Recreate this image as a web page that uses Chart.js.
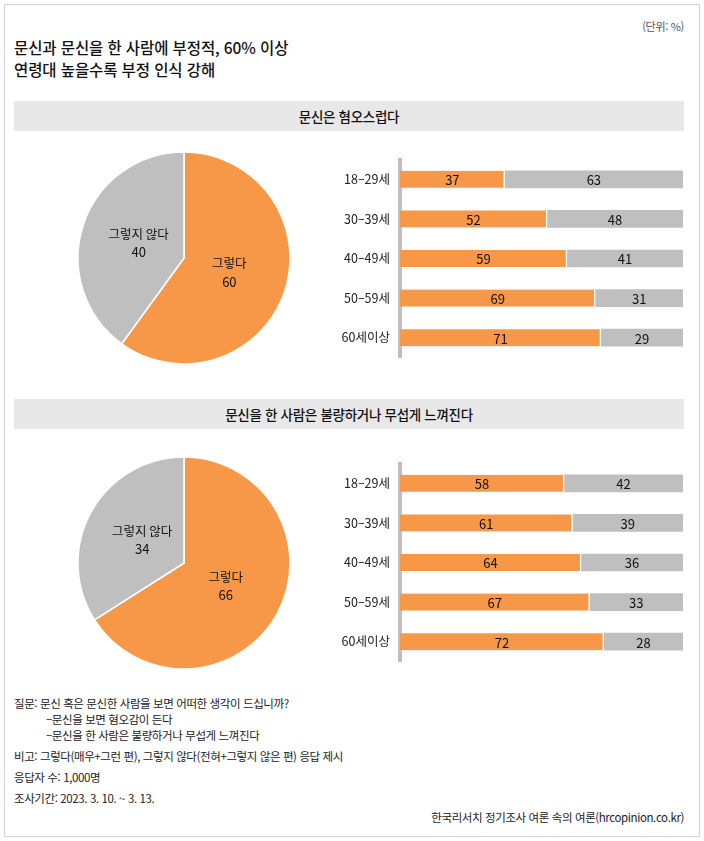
<!DOCTYPE html>
<html lang="ko">
<head>
<meta charset="utf-8">
<title>문신 인식</title>
<script src="https://cdn.jsdelivr.net/npm/chart.js@4.4.1/dist/chart.umd.min.js"></script>
<style>
  body { margin: 0; background: #fff; width: 704px; height: 841px; position: relative; overflow: hidden;
         font-family: "Noto Sans CJK KR", "Noto Sans", sans-serif; color: #111; }
  .abs { position: absolute; white-space: nowrap; }
  #frame { left: 4px; top: 4px; width: 694px; height: 831px; border: 1px solid #d2d2d2; }
  .title { left: 14px; font-size: 15.5px; font-weight: 500; letter-spacing: -0.1px; line-height: 22px; }
  .head { left: 14px; width: 670px; height: 30px; line-height: 30px; background: #e8e8e8;
          text-align: center; font-size: 13.5px; font-weight: 500; letter-spacing: -0.3px; }
  .note { left: 14px; font-size: 11.5px; letter-spacing: -0.4px; color: #222; line-height: 14px; }
  canvas { position: absolute; }
</style>
</head>
<body>
<div id="frame" class="abs"></div>
<div class="abs" style="right:20px;top:18px;font-size:11px;color:#555;letter-spacing:-0.3px">(단위: %)</div>
<div class="abs title" style="top:36px">문신과 문신을 한 사람에 부정적, 60% 이상</div>
<div class="abs title" style="top:58px">연령대 높을수록 부정 인식 강해</div>

<div class="abs head" style="top:101px">문신은 혐오스럽다</div>
<canvas id="pie1" width="220" height="220" style="left:74px;top:148px"></canvas>
<canvas id="bar1" width="360" height="233" style="left:330px;top:142px"></canvas>

<div class="abs head" style="top:399px">문신을 한 사람은 불량하거나 무섭게 느껴진다</div>
<canvas id="pie2" width="220" height="220" style="left:74px;top:453px"></canvas>
<canvas id="bar2" width="360" height="233" style="left:330px;top:446px"></canvas>

<div class="abs note" style="top:696px">질문: 문신 혹은 문신한 사람을 보면 어떠한 생각이 드십니까?</div>
<div class="abs note" style="top:712px;left:46px">–문신을 보면 혐오감이 든다</div>
<div class="abs note" style="top:728px;left:46px">–문신을 한 사람은 불량하거나 무섭게 느껴진다</div>
<div class="abs note" style="top:749px">비고: 그렇다(매우+그런 편), 그렇지 않다(전혀+그렇지 않은 편) 응답 제시</div>
<div class="abs note" style="top:770px">응답자 수: 1,000명</div>
<div class="abs note" style="top:791px">조사기간: 2023. 3. 10. ~ 3. 13.</div>
<div class="abs note" style="top:810px;left:auto;right:20px">한국리서치 정기조사 여론 속의 여론(hrcopinion.co.kr)</div>

<script>
// 연령대
const ageGroups = ['18–29세', '30–39세', '40–49세', '50–59세', '60세이상'];

// 문신은 혐오스럽다
const hateYes = [37, 52, 59, 69, 71];
const hateNo = [63, 48, 41, 31, 29];
const hateTotal = [60, 40];

// 문신을 한 사람은 불량하거나 무섭게 느껴진다
const scaryYes = [58, 61, 64, 67, 72];
const scaryNo = [42, 39, 36, 33, 28];
const scaryTotal = [66, 34];

const answerLabels = ['그렇다', '그렇지 않다'];

const ORANGE = '#f79848';
const GRAY = '#bfbfbf';
const FONT = '"Noto Sans CJK KR", "Noto Sans", sans-serif';

// 파이 조각 안에 라벨 + 값 두 줄
const pieText = {
    id: 'pieText',
    afterDatasetsDraw(chart) {
        const ctx = chart.ctx;
        const ds = chart.data.datasets[0];
        ctx.save();
        ctx.fillStyle = '#111';
        ctx.textAlign = 'center';
        ctx.textBaseline = 'middle';
        chart.getDatasetMeta(0).data.forEach((arc, i) => {
            const mid = (arc.startAngle + arc.endAngle) / 2;
            const r = arc.outerRadius * 0.45;
            const x = arc.x + Math.cos(mid) * r;
            const y = arc.y + Math.sin(mid) * r;
            ctx.font = '12.5px ' + FONT;
            ctx.fillText(chart.data.labels[i], x, y - 9);
            ctx.font = '13px ' + FONT;
            ctx.fillText(ds.data[i], x, y + 9);
        });
        ctx.restore();
    }
};

// 막대 가운데 값
const barText = {
    id: 'barText',
    afterDatasetsDraw(chart) {
        const ctx = chart.ctx;
        ctx.save();
        ctx.font = '13px ' + FONT;
        ctx.fillStyle = '#111';
        ctx.textAlign = 'center';
        ctx.textBaseline = 'middle';
        chart.data.datasets.forEach((ds, i) => {
            chart.getDatasetMeta(i).data.forEach((bar, j) => {
                const c = bar.getCenterPoint();
                ctx.fillText(ds.data[j], c.x, c.y + 1);
            });
        });
        ctx.restore();
    }
};

function makePie(id, values) {
    new Chart(document.getElementById(id), {
        type: 'pie',
        data: {
            labels: answerLabels,
            datasets: [{
                data: values,
                backgroundColor: [ORANGE, GRAY],
                borderColor: '#fff',
                borderWidth: 1.5,
                radius: 106
            }]
        },
        options: {
            responsive: false,
            animation: false,
            layout: { padding: 0 },
            plugins: { legend: { display: false }, tooltip: { enabled: false } }
        },
        plugins: [pieText]
    });
}

function makeBar(id, yes, no) {
    new Chart(document.getElementById(id), {
        type: 'bar',
        data: {
            labels: ageGroups,
            datasets: [
                {
                    label: answerLabels[0],
                    data: yes,
                    backgroundColor: ORANGE,
                    borderColor: '#fff',
                    borderWidth: { top: 0, right: 1.5, bottom: 0, left: 0 },
                    borderSkipped: false,
                    barThickness: 17
                },
                {
                    label: answerLabels[1],
                    data: no,
                    backgroundColor: GRAY,
                    borderWidth: 0,
                    barThickness: 17
                }
            ]
        },
        options: {
            indexAxis: 'y',
            responsive: false,
            animation: false,
            layout: { padding: { top: 0, bottom: 0, left: 0, right: 7 } },
            plugins: { legend: { display: false }, tooltip: { enabled: false } },
            scales: {
                x: { display: false, stacked: true, min: 0, max: 100 },
                y: {
                    stacked: true,
                    z: 1,
                    grid: { display: false, drawTicks: false },
                    border: { display: true, color: GRAY, width: 4 },
                    ticks: { color: '#222', padding: 10, font: { family: FONT, size: 12.5 } },
                    afterFit(scale) { scale.width = 70; }
                }
            }
        },
        plugins: [barText]
    });
}

makePie('pie1', hateTotal);
makeBar('bar1', hateYes, hateNo);
makePie('pie2', scaryTotal);
makeBar('bar2', scaryYes, scaryNo);
</script>
</body>
</html>
